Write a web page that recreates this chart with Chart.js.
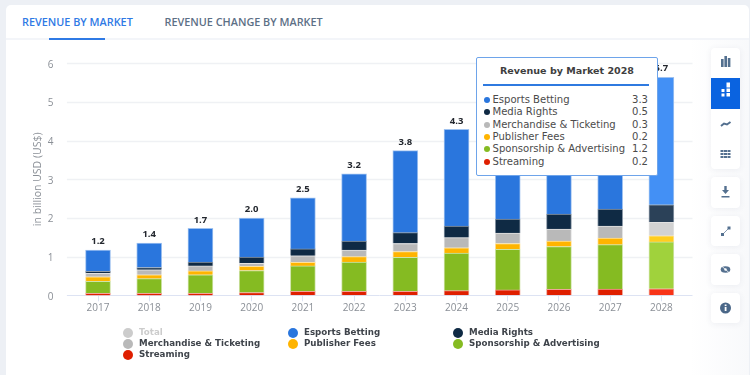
<!DOCTYPE html>
<html>
<head>
<meta charset="utf-8">
<script src="https://cdn.jsdelivr.net/npm/chart.js@4"></script>
<style>
html,body{margin:0;padding:0;width:750px;height:375px;overflow:hidden;background:#edf0f5}
#card{position:absolute;left:6px;top:5px;width:743px;height:380px;background:#fff;border-radius:5px}
#shade{position:absolute;left:690px;top:39px;width:59px;height:336px;background:linear-gradient(90deg,#fff,#f8f9fb)}
#div{position:absolute;left:6px;top:38px;width:743px;height:2px;background:#f3f5f9}
.tab{position:absolute;top:14px;font:600 10.85px/16px "Open Sans",sans-serif;white-space:nowrap}
#bar{position:absolute;left:49px;top:38px;width:56px;height:2px;background:#2f7ae5}
canvas{position:absolute;left:0;top:0}
.lg{position:absolute;font:bold 8.7px/11px "DejaVu Sans",sans-serif;color:#3f444b;white-space:nowrap}
.lg i{position:absolute;left:-16px;top:0.5px;width:10px;height:10px;border-radius:50%}
#tip{position:absolute;left:476px;top:57px;width:180px;height:117px;background:#fff;border:1px solid #6ea4ea;border-radius:2px;box-sizing:content-box}
#tip .t{position:absolute;left:0;width:100%;top:6px;text-align:center;font:bold 9.55px/13px "DejaVu Sans",sans-serif;color:#3f3f3f}
#tip .l{position:absolute;left:6px;top:26px;width:166px;height:2px;background:#2f7ae0}
#tip .r{position:absolute;left:0;width:100%;font:10.05px/12px "DejaVu Sans",sans-serif;color:#4b4b4b;white-space:nowrap}
#tip .r i{position:absolute;left:7px;top:3px;width:6px;height:6px;border-radius:50%}
#tip .r span{position:absolute;left:15.500px}
#tip .r b{position:absolute;right:9px;font-weight:normal}
.btn{position:absolute;left:711px;width:29px;background:#fff;border-radius:4px;box-shadow:0 1px 6px rgba(60,80,110,.08)}
.btn svg,.ic{position:absolute;left:0;width:29px;height:30px}
#act{position:absolute;left:711px;top:78px;width:29px;height:31px;background:#0a63e0}
</style>
</head>
<body>
<div id="card"></div><div id="shade"></div><div id="div"></div>
<div class="tab" style="left:22px;color:#2f7ae5">REVENUE BY MARKET</div>
<div class="tab" style="left:164.500px;color:#5d7086">REVENUE CHANGE BY MARKET</div>
<div id="bar"></div>
<canvas id="c" width="750" height="375"></canvas>
<div id="legend"></div>
<div id="tip"></div>
<div class="btn" style="top:48px;height:121px"></div>
<div id="act"></div>
<svg class="ic" style="position:absolute;left:711px;top:48px;width:29px;height:121px" viewBox="0 0 29 121">
<g fill="#54708f"><rect x="10" y="11" width="2.600" height="8"/><rect x="13.400" y="8" width="2.600" height="11"/><rect x="16.800" y="10" width="2.600" height="9"/></g>
<g fill="#fff"><rect x="10.500" y="41" width="3" height="3"/><rect x="10.500" y="45.500" width="3" height="3"/><rect x="15.500" y="34.500" width="3.500" height="5"/><rect x="15.500" y="40.500" width="3.500" height="3.500"/><rect x="15.500" y="45" width="3.500" height="3.500"/></g>
<path d="M10 78l3-2.500 3 1 3.500-2.500" stroke="#54708f" stroke-width="2" fill="none"/>
<g fill="#54708f"><rect x="9.500" y="102" width="3" height="2"/><rect x="13" y="102" width="3" height="2"/><rect x="16.500" y="102" width="3" height="2"/><rect x="9.500" y="105" width="3" height="2"/><rect x="13" y="105" width="3" height="2"/><rect x="16.500" y="105" width="3" height="2"/><rect x="9.500" y="108" width="3" height="2"/><rect x="13" y="108" width="3" height="2"/><rect x="16.500" y="108" width="3" height="2"/></g>
</svg>
<div class="btn" style="top:177px;height:31px"><svg viewBox="0 0 29 30"><path d="M13.300 9h2.400v4h2.300l-3.500 4-3.500-4h2.300z M10.500 19h8v1.500h-8z" fill="#54708f"/></svg></div>
<div class="btn" style="top:216px;height:30px"><svg viewBox="0 0 29 30"><rect x="16.500" y="10.500" width="3" height="3" fill="#54708f"/><rect x="10" y="17" width="3" height="3" fill="#54708f"/><path d="M12 18l6-6" stroke="#54708f" stroke-width="0.700"/></svg></div>
<div class="btn" style="top:254px;height:31px"><svg viewBox="0 0 29 30"><ellipse cx="14.500" cy="15.500" rx="4.800" ry="3.200" fill="#54708f"/><circle cx="14.500" cy="15.500" r="1.200" fill="#fff"/><path d="M10.500 12l8 7" stroke="#fff" stroke-width="0.800"/></svg></div>
<div class="btn" style="top:293px;height:30px"><svg viewBox="0 0 29 30"><circle cx="14.500" cy="15" r="5.500" fill="#4a6788"/><rect x="13.700" y="14" width="1.800" height="4" fill="#fff"/><rect x="13.700" y="11.500" width="1.800" height="1.600" fill="#fff"/></svg></div>
<script>
const years = ["2017","2018","2019","2020","2021","2022","2023","2024","2025","2026","2027","2028"];
const totalLabels = ["1.2","1.4","1.7","2.0","2.5","3.2","3.8","4.3","4.7","5.0","5.3","5.7"];
const total =       [1.17,1.35,1.73,2.00,2.52,3.14,3.74,4.29,4.65,4.98,5.30,5.64];
const esports =     [0.55,0.63,0.87,1.01,1.32,1.74,2.12,2.50,2.68,2.88,3.07,3.30];
const mediaRights = [0.05,0.06,0.10,0.16,0.18,0.23,0.28,0.30,0.36,0.39,0.44,0.45];
const merchandise = [0.09,0.13,0.13,0.08,0.17,0.17,0.21,0.26,0.27,0.31,0.31,0.35];
const publisher =   [0.12,0.10,0.10,0.11,0.09,0.14,0.15,0.14,0.15,0.14,0.17,0.16];
const sponsorship = [0.31,0.38,0.48,0.57,0.66,0.76,0.88,0.97,1.05,1.105,1.15,1.21];
const streaming =   [0.05,0.05,0.05,0.07,0.10,0.10,0.10,0.12,0.14,0.155,0.16,0.17];

const tooltipTitle = "Revenue by Market 2028";
const totalName = "Total";
const series = [
  {name:"Esports Betting", data:esports, color:"#2a76dd", hi:"#4390f5", edge:"#9fc2f0"},
  {name:"Media Rights", data:mediaRights, color:"#0f2a44", hi:"#2b4158", edge:"#8d9aa8"},
  {name:"Merchandise & Ticketing", data:merchandise, color:"#b9b9b9", hi:"#d2d2d2", edge:"#e2e2e2"},
  {name:"Publisher Fees", data:publisher, color:"#ffb400", hi:"#ffcd1e", edge:"#ffe299"},
  {name:"Sponsorship & Advertising", data:sponsorship, color:"#85bb22", hi:"#a0d23c", edge:"#cfe3a8"},
  {name:"Streaming", data:streaming, color:"#df1f00", hi:"#f83418", edge:"#f0a598"}
];
const last = years.length - 1;

const datasets = series.slice().reverse().map(s => ({
  label: s.name,
  data: s.data,
  backgroundColor: s.data.map((v,i) => i === last ? s.hi : s.color),
  borderColor: s.edge,
  borderWidth: 1,
  barThickness: 25,
  stack: "m"
}));

const extras = {
  id: "extras",
  beforeDatasetsDraw(chart) {
    const {ctx, chartArea:a, scales:{y}} = chart;
    ctx.save();
    y.ticks.forEach(t => {
      const py = Math.round(y.getPixelForValue(t.value)) + 0.5;
      ctx.strokeStyle = t.value === 0 ? "#dde3f3" : "#eff1f4";
      ctx.lineWidth = t.value === 0 ? 1 : 1.4;
      ctx.beginPath(); ctx.moveTo(a.left - 5.5, py); ctx.lineTo(a.right + 5.5, py); ctx.stroke();
    });
    ctx.restore();
  },
  afterDatasetsDraw(chart) {
    const {ctx, scales:{x,y}} = chart;
    ctx.save();
    ctx.font = 'bold 9.5px "Open Sans",sans-serif';
    ctx.fillStyle = "#23272e";
    ctx.textAlign = "center"; ctx.textBaseline = "middle";
    total.forEach((v,i) => ctx.fillText(totalLabels[i], x.getPixelForValue(i), y.getPixelForValue(v) - 8.5));
    ctx.restore();
  }
};

new Chart(document.getElementById("c"), {
  type: "bar",
  data: {labels: years, datasets},
  plugins: [extras],
  options: {
    responsive: false, animation: false,
    layout: {padding: {left: 0, right: 63, top: 63.3, bottom: 0}},
    plugins: {legend: {display: false}, tooltip: {enabled: false}},
    scales: {
      x: {
        stacked: true,
        grid: {drawOnChartArea: false, offset: false, tickLength: 6, tickColor: "#dde3f3"},
        border: {display: false},
        ticks: {color: "#8a8f96", font: {family: "Open Sans", size: 10}, padding: 1, maxRotation: 0},
        afterFit(s) { s.height = 79.7; }
      },
      y: {
        stacked: true, min: 0, max: 6,
        grid: {display: false},
        border: {display: false},
        ticks: {stepSize: 1, color: "#8a8f96", font: {family: "Open Sans", size: 10}, padding: 11, labelOffset: 1.5},
        title: {display: true, text: "in billion USD (US$)", color: "#8a8f96", font: {family: "Open Sans", size: 10.5}, padding: {top: 32, bottom: 0}},
        afterFit(s) { s.width = 72.4; }
      }
    }
  }
});

/* legend */
const lg = document.getElementById("legend");
const legendItems = [{name: totalName, color: "#cccccc", off: true}].concat(series);
const cols = [139, 304, 469], rows = [327, 338, 349];
legendItems.forEach((s, i) => {
  const d = document.createElement("div");
  d.className = "lg";
  d.style.left = cols[i % 3] + "px";
  d.style.top = rows[Math.floor(i / 3)] + "px";
  if (s.off) d.style.color = "#cccccc";
  const dot = document.createElement("i");
  dot.style.background = s.color;
  d.appendChild(dot);
  d.appendChild(document.createTextNode(s.name));
  lg.appendChild(d);
});

/* tooltip panel for the highlighted year */
const tip = document.getElementById("tip");
const t = document.createElement("div"); t.className = "t"; t.textContent = tooltipTitle; tip.appendChild(t);
const l = document.createElement("div"); l.className = "l"; tip.appendChild(l);
series.forEach((s, i) => {
  const r = document.createElement("div");
  r.className = "r";
  r.style.top = (36 + i * 12.35) + "px";
  const dot = document.createElement("i"); dot.style.background = s.color;
  const name = document.createElement("span"); name.textContent = s.name;
  const val = document.createElement("b"); val.textContent = s.data[last].toFixed(1);
  r.append(dot, name, val);
  tip.appendChild(r);
});
</script>
</body>
</html>
